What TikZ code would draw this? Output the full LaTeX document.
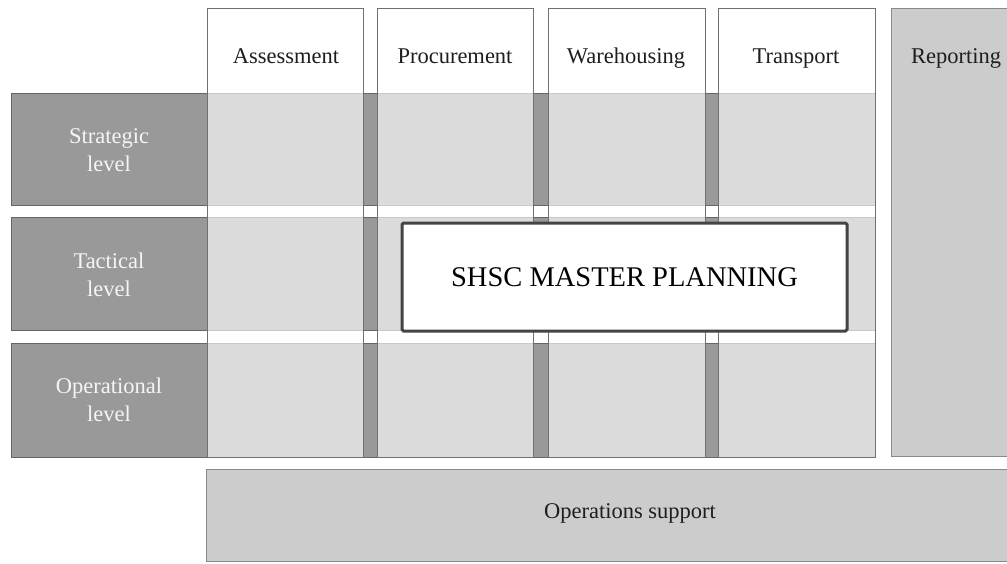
\documentclass[tikz,border=0pt]{standalone}
\usepackage{fontspec}
\setmainfont{Liberation Serif}
\definecolor{rowfill}{HTML}{999999}
\definecolor{rowline}{HTML}{666666}
\definecolor{colline}{HTML}{707070}
\definecolor{repfill}{HTML}{CCCCCC}
\definecolor{repline}{HTML}{8A8A8A}
\definecolor{boxline}{HTML}{444444}
\definecolor{txt}{HTML}{1E1E1E}
\begin{document}
\begin{tikzpicture}[x=1pt,y=-1pt,
  base/.style={rectangle, inner sep=0pt, outer sep=0pt, anchor=north west, line width=1pt},
  rowbar/.style={base, draw=rowline, fill=rowfill},
  colbox/.style={base, draw=colline, fill=white, fill opacity=0.65, text opacity=1, minimum width=156pt, minimum height=449pt},
  graybox/.style={base, draw=repline, fill=repfill},
  lbl/.style={inner sep=0pt, font=\fontsize{22.5}{28}\selectfont, text=txt, align=center},
  headlbl/.style={lbl, anchor=base},
  rowlbl/.style={lbl, text=white!96!black},
  master/.style={rectangle, draw=boxline, line width=3pt, fill=white, rounded corners=1.5pt, minimum width=445pt, minimum height=108pt, inner sep=0pt, font=\fontsize{28.5}{32}\selectfont, text=black}
]
\useasboundingbox (0,0) rectangle (1007,563);
\clip (0,0) rectangle (1007,563);

% level rows
\node[rowbar, minimum width=864pt, minimum height=112pt] (strategic) at (11,93) {};
\node[rowbar, minimum width=864pt, minimum height=113pt] (tactical) at (11,217) {};
\node[rowbar, minimum width=864pt, minimum height=114pt] (operational) at (11,343) {};
\node[rowlbl] (strategicl) at (109,150) {Strategic\\level};
\node[rowlbl] (tacticall) at (109,275) {Tactical\\level};
\node[rowlbl] (operationall) at (109,400) {Operational\\level};

% function columns
\node[colbox] (assess) at (207,8) {};
\node[colbox] (procure) at (377,8) {};
\node[colbox, minimum width=157pt] (warehouse) at (548,8) {};
\node[colbox, minimum width=157pt] (transport) at (718,8) {};
\node[headlbl] (assessl) at (286,63) {Assessment};
\node[headlbl] (procurel) at (455,63) {Procurement};
\node[headlbl] (warehousel) at (626,63) {Warehousing};
\node[headlbl] (transportl) at (796,63) {Transport};

% reporting column
\node[graybox, minimum width=130pt, minimum height=448pt] (reporting) at (891,8) {};
\node[headlbl] (reportingl) at (956,63) {Reporting};

% operations support
\node[graybox, minimum width=848pt, minimum height=92pt] (opsupport) at (206,469) {};
\node[lbl] (opsupportl) at (630,513) {Operations support};

% master planning
\node[master] (shsc) at (624.5,277) {SHSC MASTER PLANNING};
\end{tikzpicture}
\end{document}
